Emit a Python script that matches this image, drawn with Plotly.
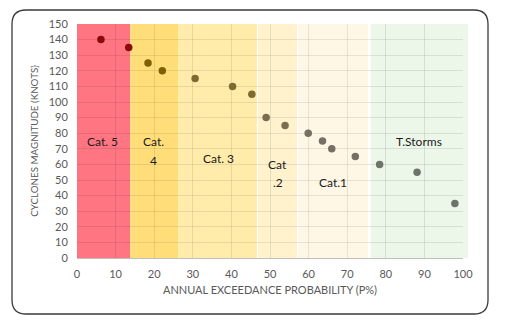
import plotly.graph_objects as go

# ---- data ----
prob = [6.2, 13.4, 18.4, 22.1, 30.6, 40.3, 45.3, 49.0, 53.9, 59.9, 63.6, 66.0, 72.1, 78.4, 88.1, 97.9]
knots = [140, 135, 125, 120, 115, 110, 105, 90, 85, 80, 75, 70, 65, 60, 55, 35]
point_cat = ["c5", "c5", "c4", "c4", "c3", "c3", "c3", "c2", "c2", "c1", "c1", "c1", "c1", "ts", "ts", "ts"]

band_names = ["c5", "c4", "c3", "c2", "c1", "ts"]
band_start = [0.0, 13.8, 26.2, 46.9, 57.3, 76.1]
band_end = [13.8, 26.2, 46.6, 57.0, 75.4, 101.3]
band_fill = ["#FF7682", "#FFDE7A", "#FFECAA", "#FFF2CD", "#FFF7E5", "#ECF6E9"]
point_color = {"c5": "#8B0A0A", "c4": "#7F6004", "c3": "#7D6A30", "c2": "#7A6E52",
               "c1": "#767064", "ts": "#6F746A"}

labels = [("Cat. 5", 6.5, 74.5), ("Cat.", 19.7, 74.5), ("4", 19.7, 62.5),
          ("Cat. 3", 36.6, 64.0), ("Cat", 52.0, 60.0), (".2", 52.0, 48.5),
          ("Cat.1", 66.3, 48.7), ("T.Storms", 88.6, 74.8)]

x_ticks = list(range(0, 101, 10))
y_ticks = list(range(0, 151, 10))

W, H = 505, 322
L, R, T, B = 77, 42, 24, 64
pw, ph = W - L - R, H - T - B

fig = go.Figure()
fig.add_trace(go.Scatter(
    x=prob, y=knots, mode="markers",
    marker=dict(size=7.5, color=[point_color[c] for c in point_cat], line=dict(width=0)),
    showlegend=False, hoverinfo="x+y"))

shapes = []
for s, e, c in zip(band_start, band_end, band_fill):
    shapes.append(dict(type="rect", xref="paper", yref="y", x0=s / 100, x1=e / 100,
                       y0=0, y1=150, fillcolor=c, line=dict(width=0), layer="below"))

# rounded border in pixel terms -> paper
def px(xp):
    return (xp - L) / pw
def py(yp):
    return (H - B - yp) / ph

x0, y0, x1, y1, r = 12, 10, 488, 314, 14
path = (f"M {px(x0 + r)},{py(y0)} L {px(x1 - r)},{py(y0)} Q {px(x1)},{py(y0)} {px(x1)},{py(y0 + r)} "
        f"L {px(x1)},{py(y1 - r)} Q {px(x1)},{py(y1)} {px(x1 - r)},{py(y1)} "
        f"L {px(x0 + r)},{py(y1)} Q {px(x0)},{py(y1)} {px(x0)},{py(y1 - r)} "
        f"L {px(x0)},{py(y0 + r)} Q {px(x0)},{py(y0)} {px(x0 + r)},{py(y0)} Z")
shapes.append(dict(type="path", xref="paper", yref="paper", path=path,
                   line=dict(color="#3a3a3a", width=1.3), fillcolor="rgba(0,0,0,0)", layer="above"))

annotations = [dict(text=t, x=x, y=y, xref="x", yref="y", showarrow=False,
                    font=dict(family="Lato", size=12, color="#1a1a1a"))
               for t, x, y in labels]

fig.update_layout(
    width=W, height=H, margin=dict(l=L, r=R, t=T, b=B),
    paper_bgcolor="white", plot_bgcolor="white",
    shapes=shapes, annotations=annotations,
    font=dict(family="Lato", color="#595959"),
    xaxis=dict(range=[0, 100], tickvals=x_ticks, showgrid=True,
               gridcolor="rgba(0,0,0,0.09)", gridwidth=1, zeroline=False,
               showline=True, linecolor="#bfbfbf", linewidth=1,
               ticks="outside", ticklen=6, tickcolor="rgba(0,0,0,0)",
               tickfont=dict(size=11, color="#595959"),
               title=dict(text="ANNUAL EXCEEDANCE PROBABILITY (P%)",
                          font=dict(size=11, color="#595959"), standoff=7)),
    yaxis=dict(range=[0, 150], tickvals=y_ticks, showgrid=True,
               gridcolor="rgba(0,0,0,0.09)", gridwidth=1, zeroline=False,
               showline=False, ticks="outside", ticklen=6, tickcolor="rgba(0,0,0,0)",
               tickfont=dict(size=11, color="#595959"),
               title=dict(text="CYCLONES MAGNITUDE (KNOTS)",
                          font=dict(size=9.8, color="#595959"), standoff=8)),
)

fig.write_html("out.html")
